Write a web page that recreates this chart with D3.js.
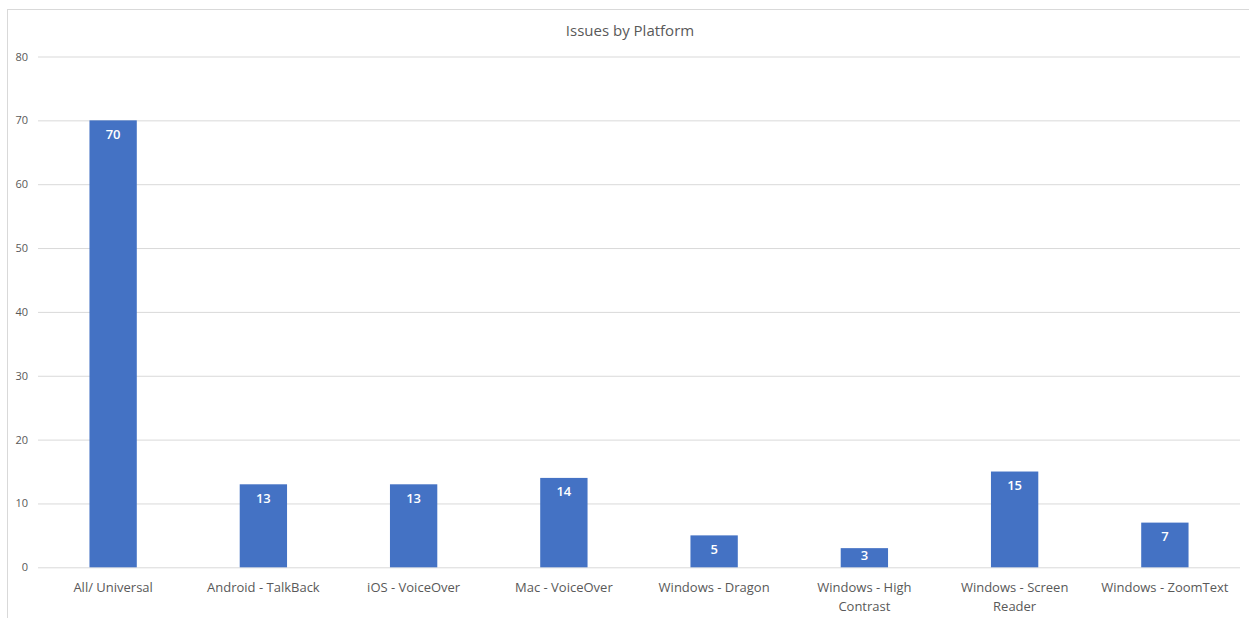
<!DOCTYPE html>
<html><head><meta charset="utf-8">
<script src="https://cdn.jsdelivr.net/npm/d3@7"></script>
<style>body{margin:0;background:#fff;} svg{display:block;font-family:"Open Sans","Noto Sans",sans-serif;}</style>
</head><body>
<svg id="c" width="1249" height="618"></svg>
<script>
const categories = ["All/ Universal","Android - TalkBack","iOS - VoiceOver","Mac - VoiceOver","Windows - Dragon","Windows - High Contrast","Windows - Screen Reader","Windows - ZoomText"];
const values = [70,13,13,14,5,3,15,7];
const yTicks = [0,10,20,30,40,50,60,70,80];
const title = "Issues by Platform";

const svg = d3.select("#c");
const W = 1249, H = 618;
const m = {left:38, right:9, top:56.5, bottom:51};
const x = d3.scaleBand().domain(categories).range([m.left, W - m.right]).paddingInner(0.685).paddingOuter(0.3425);
const y = d3.scaleLinear().domain([0,80]).range([567.3, 56.5]);

svg.append("rect").attr("x",7.5).attr("y",9.5).attr("width",W+10).attr("height",H+10).attr("fill","#fff").attr("stroke","#d9d9d9");

svg.append("text").attr("x",630).attr("y",36).attr("text-anchor","middle").attr("fill","#595959").attr("font-size",15).text(title);

const yAxis = svg.append("g").attr("transform",`translate(${m.left},0)`)
  .call(d3.axisLeft(y).tickValues(yTicks).tickSize(-(W - m.right - m.left)).tickPadding(10));
yAxis.select(".domain").remove();
yAxis.selectAll(".tick line").attr("stroke","#d9d9d9");
yAxis.selectAll(".tick text").attr("fill","#595959").attr("font-size",11).attr("font-family","Open Sans, sans-serif");

svg.append("g").selectAll("rect").data(values).join("rect")
  .attr("x",(d,i)=>x(categories[i])).attr("y",d=>y(d))
  .attr("width",x.bandwidth()).attr("height",d=>y(0)-y(d)).attr("fill","#4472C4");

svg.append("g").selectAll("text").data(values).join("text")
  .attr("x",(d,i)=>x(categories[i])+x.bandwidth()/2)
  .attr("y",d=>Math.min(y(d)+14, y(0)-12) + 4.5)
  .attr("text-anchor","middle").attr("fill","#fff").attr("font-size",13).attr("font-weight",600).text(d=>d);

const xAxis = svg.append("g").attr("transform",`translate(0,${y(0)})`)
  .call(d3.axisBottom(x).tickSize(0).tickPadding(0));
xAxis.select(".domain").remove();
xAxis.selectAll(".tick text").attr("fill","#595959").attr("font-size",13).attr("font-family","Open Sans, sans-serif")
  .each(function(d){
    const t = d3.select(this); t.text(null);
    const words = d.split(" ");
    let lines = [], cur = [];
    const probe = t.append("tspan");
    words.forEach(w=>{
      const test = cur.concat([w]).join(" ");
      probe.text(test);
      if (probe.node().getComputedTextLength() > 142 && cur.length) { lines.push(cur.join(" ")); cur=[w]; }
      else cur.push(w);
    });
    lines.push(cur.join(" "));
    probe.remove();
    lines.forEach((l,k)=>t.append("tspan").attr("x",0).attr("y",25 + k*19).attr("dy",0).text(l));
  });
</script>
</body></html>
